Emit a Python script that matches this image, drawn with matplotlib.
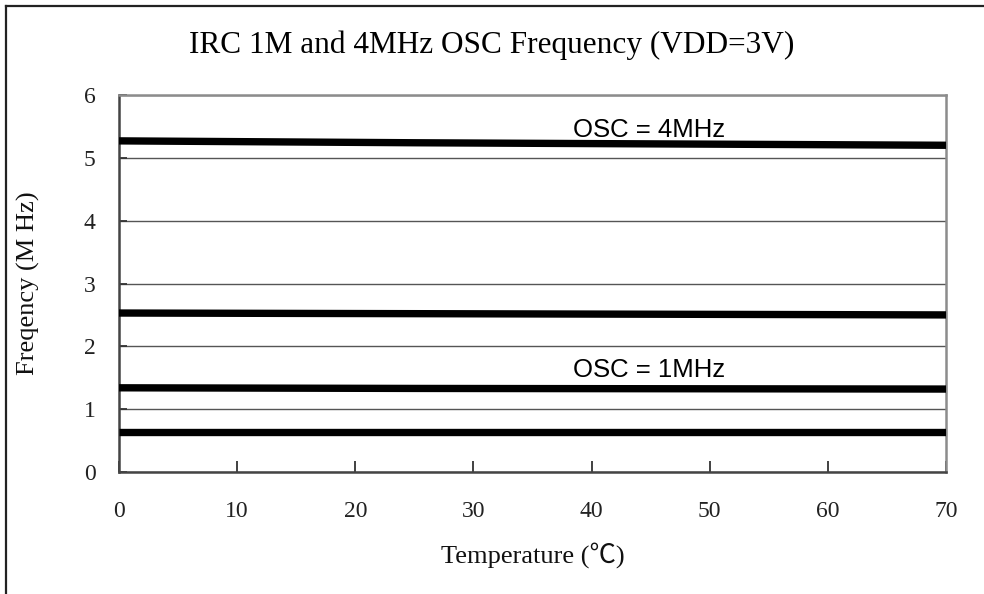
import matplotlib
matplotlib.use("Agg")
import matplotlib.pyplot as plt
from matplotlib.lines import Line2D

# Temperature sample points (degC)
temperature = [0, 25, 70]

# Measured oscillator frequencies (MHz) at VDD = 3V
osc4_high = [5.27, 5.24, 5.20]
osc4_low = [2.53, 2.52, 2.50]
osc1_high = [1.34, 1.33, 1.32]
osc1_low = [0.64, 0.64, 0.64]

series = [osc4_high, osc4_low, osc1_high, osc1_low]

x_ticks = [0, 10, 20, 30, 40, 50, 60, 70]
y_ticks = [0, 1, 2, 3, 4, 5, 6]

title_text = "IRC 1M and 4MHz OSC Frequency (VDD=3V)"
x_label = "Temperature (℃)"
y_label = "Freqency (M Hz)"
note_4m = "OSC = 4MHz"
note_1m = "OSC = 1MHz"

serif = ["Liberation Serif", "Noto Sans CJK TC", "DejaVu Serif"]
sans = ["Liberation Sans", "DejaVu Sans"]

fig = plt.figure(figsize=(9.84, 5.94), dpi=100)
fig.patch.set_facecolor("white")

ax = fig.add_axes([119 / 984, 1 - 472 / 594, (946 - 119) / 984, (472 - 95) / 594])

for ys in series:
    ax.plot(temperature, ys, color="black", linewidth=5.3,
            solid_capstyle="butt", zorder=3)

ax.set_xlim(0, 70)
ax.set_ylim(0, 6)
ax.set_xticks(x_ticks)
ax.set_yticks(y_ticks)
ax.set_xticklabels([str(v) for v in x_ticks], family=serif, fontsize=17, color="#222222")
ax.set_yticklabels([str(v) for v in y_ticks], family=serif, fontsize=17, color="#222222")
ax.tick_params(axis="x", direction="in", length=8, width=1.3, color="#333333", pad=21)
ax.tick_params(axis="y", direction="in", length=6, width=1.3, color="#333333", pad=17)

ax.yaxis.grid(True, color="#555555", linewidth=1.0, zorder=1)
ax.set_axisbelow(True)

for side in ("left", "bottom"):
    ax.spines[side].set_color("#444444")
    ax.spines[side].set_linewidth(1.8)
for side in ("top", "right"):
    ax.spines[side].set_color("#8c8c8c")
    ax.spines[side].set_linewidth(1.8)

ax.text(38.4, 5.33, note_4m, family=sans, fontsize=18.5, color="black",
        ha="left", va="baseline", zorder=4)
ax.text(38.4, 1.51, note_1m, family=sans, fontsize=18.5, color="black",
        ha="left", va="baseline", zorder=4)

ax.set_xlabel(x_label, family=serif, fontsize=19, color="#111111", labelpad=14)
ax.set_ylabel(y_label, family=serif, fontsize=19, color="#111111", labelpad=31)

fig.text(0.5, 1 - 45 / 594, title_text, family=serif, fontsize=22.5,
         color="black", ha="center", va="center")

# Outer frame: left and top edges
fig.add_artist(Line2D([5.5 / 984, 5.5 / 984], [0, 1 - 6 / 594],
                      transform=fig.transFigure, color="#222222", linewidth=1.6))
fig.add_artist(Line2D([5.5 / 984, 1], [1 - 6 / 594, 1 - 6 / 594],
                      transform=fig.transFigure, color="#222222", linewidth=1.6))

fig.savefig("out.png", dpi=100, facecolor="white")
